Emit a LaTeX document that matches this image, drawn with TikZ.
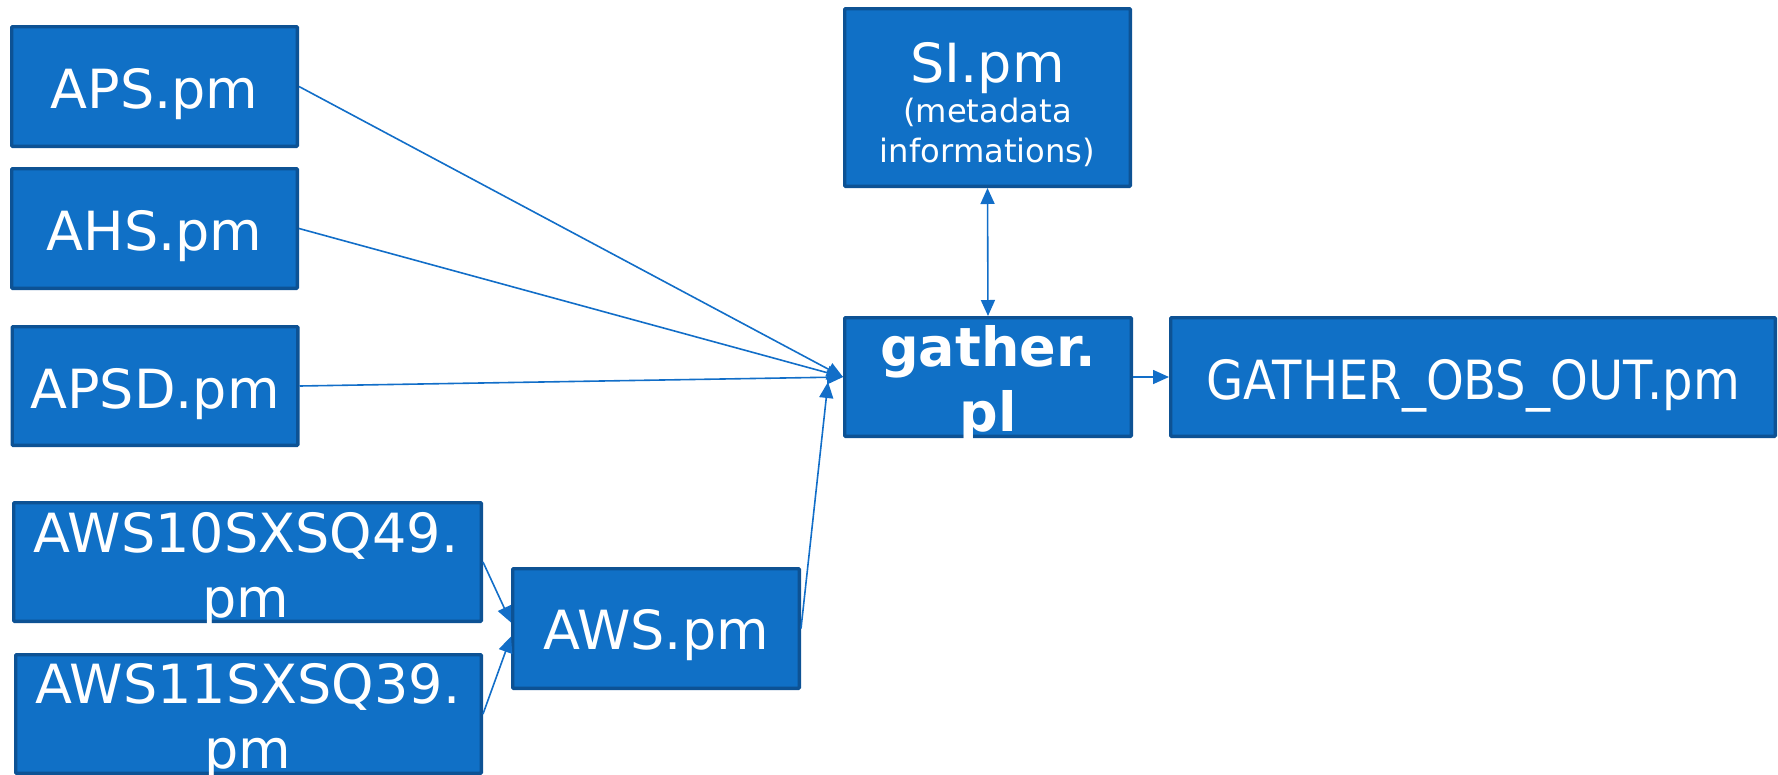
\documentclass[tikz,border=0pt]{standalone}
\usepackage{fontspec}
\setmainfont{DejaVu Sans}
\newfontfamily\condfont[FakeStretch=0.89]{DejaVu Sans}
\usetikzlibrary{arrows.meta}
\definecolor{boxfill}{RGB}{16,112,198}
\definecolor{boxline}{RGB}{13,82,148}
\definecolor{edgecol}{RGB}{18,110,200}
\begin{document}
\begin{tikzpicture}[x=1pt,y=-1pt,
  box/.style={draw=boxline, fill=boxfill, line width=3.3pt, rounded corners=1pt, inner sep=0pt},
  lbl/.style={text=white, anchor=base, inner sep=0pt, font=\fontsize{54}{64}\selectfont},
  clbl/.style={text=white, anchor=base, inner sep=0pt, font=\condfont\fontsize{54}{64}\selectfont},
  slbl/.style={text=white, anchor=base, inner sep=0pt, font=\fontsize{32.2}{40}\selectfont},
  blbl/.style={text=white, anchor=base, inner sep=0pt, font=\bfseries\fontsize{54}{64}\selectfont},
  conn/.style={draw=edgecol, line width=1.6pt, -{Triangle[length=16pt,width=14pt]}},
  dconn/.style={draw=edgecol, line width=1.6pt, {Triangle[length=16pt,width=14pt]}-{Triangle[length=16pt,width=14pt]}},
]
\useasboundingbox (0,0) rectangle (1778,774);

% boxes
\node[box, minimum width=285.7pt, minimum height=119.7pt] (aps)    at (154.5,86.5) {};
\node[box, minimum width=285.7pt, minimum height=119.7pt] (ahs)    at (154.5,228.5) {};
\node[box, minimum width=285.7pt, minimum height=118.7pt] (apsd)   at (155,386) {};
\node[box, minimum width=467.7pt, minimum height=118.7pt] (aws10)  at (247.5,562) {};
\node[box, minimum width=465.7pt, minimum height=118.7pt] (aws11)  at (248.5,714) {};
\node[box, minimum width=286.7pt, minimum height=119.7pt] (aws)    at (656,628.5) {};
\node[box, minimum width=285.7pt, minimum height=177.7pt] (si)     at (987.5,97.5) {};
\node[box, minimum width=286.7pt, minimum height=118.7pt] (gather) at (988,377) {};
\node[box, minimum width=604.7pt, minimum height=118.7pt] (out)    at (1473,377) {};

\coordinate (awsend) at (828,382);

% connectors
\draw[conn] (aps.east) -- (gather.west);
\draw[conn] (ahs.east) -- (gather.west);
\draw[conn] (apsd.east) -- (gather.west);
\draw[conn] (aws.east) -- (awsend);
\draw[conn] (aws10.east) -- ([yshift=6pt]aws.west);
\draw[conn] (aws11.east) -- ([yshift=-8pt]aws.west);
\draw[conn] (gather.east) -- (out.west);
\draw[dconn] (si.south) -- (gather.north);

% texts
\node[lbl] (tapsl) at (154.5,108) {APS.pm};
\node[lbl] (tahs) at (154.5,250) {AHS.pm};
\node[lbl] (tapsd) at (155,408) {APSD.pm};
\node[lbl] (taws) at (656,649) {AWS.pm};
\node[clbl] (tout) at (1473,399) {GATHER\_OBS\_OUT.pm};
\node[lbl] (tsi) at (987.5,82) {SI.pm};
\node[slbl] (tsi2) at (987.5,122) {(metadata};
\node[slbl] (tsi3) at (987.5,162) {informations)};
\node[blbl] (tg1) at (988,366) {gather.};
\node[blbl] (tg2) at (988,431) {pl};
\node[lbl] (ta10a) at (246,552) {AWS10SXSQ49.};
\node[lbl] (ta10b) at (246,617) {pm};
\node[lbl] (ta11a) at (248,703) {AWS11SXSQ39.};
\node[lbl] (ta11b) at (248,768) {pm};
\end{tikzpicture}
\end{document}
